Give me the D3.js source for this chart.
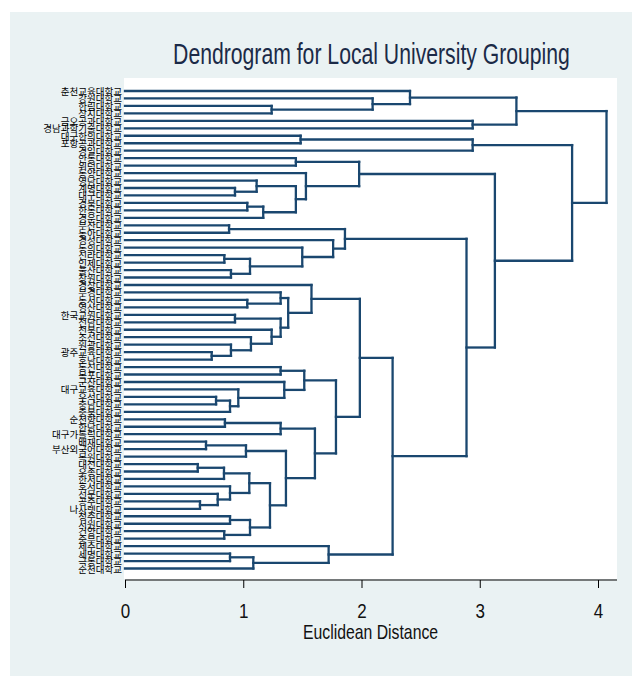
<!DOCTYPE html>
<html>
<head>
<meta charset="utf-8">
<script src="https://cdn.jsdelivr.net/npm/d3@7"></script>
<style>
  html, body { margin: 0; padding: 0; background: #ffffff; }
  svg { display: block; }
</style>
</head>
<body>
<svg id="chart" width="642" height="686"></svg>
<script>
// ---------------- DATA ----------------
const titleText = "Dendrogram for Local University Grouping";
const xAxisTitle = "Euclidean Distance";
const xTicks = [0, 1, 2, 3, 4];

// leaf labels, in display order (top to bottom)
const labels = [
  "춘천교육대학교", "강원대학교", "한림대학교", "상지대학교", "금오공과대학교",
  "경남과학기술대학교", "대구한의대학교", "포항공과대학교", "경일대학교", "안동대학교",
  "위덕대학교", "동양대학교", "영남대학교", "계명대학교", "대구대학교",
  "경북대학교", "한동대학교", "경운대학교", "부산대학교", "동아대학교",
  "경성대학교", "동의대학교", "신라대학교", "인제대학교", "울산대학교",
  "창원대학교", "경상대학교", "부경대학교", "동서대학교", "영산대학교",
  "한국교원대학교", "전남대학교", "전북대학교", "조선대학교", "원광대학교",
  "광주교육대학교", "호남대학교", "동신대학교", "목포대학교", "군산대학교",
  "대구교육대학교", "우석대학교", "충남대학교", "충북대학교", "순천향대학교",
  "한남대학교", "대구가톨릭대학교", "배재대학교", "부산외국어대학교", "목원대학교",
  "대전대학교", "우송대학교", "한서대학교", "호서대학교", "선문대학교",
  "공주대학교", "나사렛대학교", "청주대학교", "서원대학교", "건양대학교",
  "중부대학교", "제주대학교", "세명대학교", "극동대학교", "순천대학교"
];

// merges: [childA, childB, distance]; leaves are 0..64, merge k creates node 65+k
const mergeA = [2, 1, 0, 4, 67, 6, 70, 9, 13, 12, 15, 75, 74, 11, 72,
  18, 22, 24, 81, 21, 20, 80, 28, 27, 30, 35, 34, 33, 32, 89, 88, 26,
  37, 41, 98, 40, 39, 97, 44, 103, 47, 105, 50, 107, 55, 54, 53, 108,
  57, 59, 113, 112, 106, 104, 102, 96, 62, 121, 61, 120, 86, 79, 71, 69];
const mergeB = [3, 65, 66, 5, 68, 7, 8, 10, 14, 73, 16, 17, 76, 77, 78,
  19, 23, 25, 82, 83, 84, 85, 29, 87, 31, 36, 90, 91, 92, 93, 94, 95,
  38, 42, 43, 99, 100, 101, 45, 46, 48, 49, 51, 52, 56, 109, 110, 111,
  58, 60, 114, 115, 116, 117, 118, 119, 63, 64, 122, 123, 124, 125, 126, 127];
const mergeDist = [1.24, 2.094, 2.41, 2.94, 3.31, 1.485, 2.94, 1.445, 0.93, 1.113, 1.034, 1.169, 1.445, 1.53, 1.98,
  0.88, 0.84, 0.896, 1.057, 1.499, 1.76, 1.86, 1.034, 1.316, 0.93, 0.733, 0.896, 1.065, 1.24, 1.316, 1.38, 1.577,
  1.316, 0.77, 0.888, 0.958, 1.347, 1.516, 0.845, 1.316, 0.685, 1.023, 0.615, 0.837, 0.634, 0.784, 0.888, 1.051,
  0.888, 0.839, 1.057, 1.226, 1.361, 1.606, 1.784, 1.986, 0.888, 1.085, 1.722, 2.263, 2.888, 3.128, 3.781, 4.072];

// ---------------- LAYOUT ----------------
const svg = d3.select("#chart");

const bg = { x: 10, y: 12, w: 622, h: 664 };
const plot = { left: 124, right: 617, top: 78, bottom: 579 };

svg.append("rect").attr("x", bg.x).attr("y", bg.y).attr("width", bg.w).attr("height", bg.h)
  .attr("fill", "#eaf2f3");
svg.append("rect").attr("x", plot.left).attr("y", plot.top)
  .attr("width", plot.right - plot.left).attr("height", plot.bottom - plot.top)
  .attr("fill", "#ffffff");

const x = d3.scaleLinear().domain([0, 4]).range([125, 598]);
const y = d3.scaleLinear().domain([0, labels.length - 1]).range([91, 568.5]);

// build the tree
const nodes = labels.map((name, i) => ({ id: i, name, dist: 0, children: null }));
mergeA.forEach((a, k) => {
  nodes.push({ id: labels.length + k, dist: mergeDist[k], children: [nodes[a], nodes[mergeB[k]]] });
});
const root = d3.hierarchy(nodes[nodes.length - 1]);
root.eachAfter(n => {
  n.yPos = n.children ? (n.children[0].yPos + n.children[1].yPos) / 2 : y(n.data.id);
});

const lineColor = "#1a476f";
const g = svg.append("g").attr("fill", "none").attr("stroke", lineColor)
  .attr("stroke-width", 2.3).attr("stroke-linecap", "square");

// horizontal stems: each node from its own distance to its parent's distance
root.descendants().filter(n => n.parent).forEach(n => {
  g.append("line")
    .attr("x1", x(n.data.dist)).attr("x2", x(n.parent.data.dist))
    .attr("y1", n.yPos).attr("y2", n.yPos);
});
// vertical joins
root.descendants().filter(n => n.children).forEach(n => {
  g.append("line")
    .attr("x1", x(n.data.dist)).attr("x2", x(n.data.dist))
    .attr("y1", n.children[0].yPos).attr("y2", n.children[1].yPos);
});

// leaf labels
svg.append("g").selectAll("text").data(root.leaves()).join("text")
  .attr("x", 122).attr("y", d => d.yPos)
  .attr("text-anchor", "end").attr("dominant-baseline", "central")
  .attr("font-family", "'Noto Sans CJK KR', sans-serif").attr("font-size", 9.5)
  .attr("fill", "#000")
  .text(d => d.data.name);

// x axis
const axisY = 580;
svg.append("line").attr("x1", 125).attr("x2", plot.right).attr("y1", axisY).attr("y2", axisY)
  .attr("stroke", "#000").attr("stroke-width", 1);
const axis = d3.axisBottom(x).tickValues(xTicks).tickSize(8).tickFormat(d3.format("d"));
const ax = svg.append("g").attr("transform", `translate(0,${axisY})`).call(axis);
ax.select(".domain").remove();
ax.selectAll(".tick line").attr("stroke", "#000");
ax.selectAll(".tick text")
  .attr("font-family", "'Liberation Sans', Arial, sans-serif").attr("font-size", 17)
  .attr("fill", "#111").attr("y", 0).attr("dy", 0)
  .attr("transform", "translate(0,38) scale(1,1.24)");

svg.append("g").attr("transform", "translate(370.5,639) scale(1,1.33)")
  .append("text").attr("x", 0).attr("y", 0).attr("text-anchor", "middle")
  .attr("font-family", "'Liberation Sans', Arial, sans-serif").attr("font-size", 15.8)
  .attr("fill", "#111")
  .text(xAxisTitle);

svg.append("g").attr("transform", "translate(371.5,64) scale(1,1.42)")
  .append("text").attr("x", 0).attr("y", 0).attr("text-anchor", "middle")
  .attr("font-family", "'Liberation Sans', Arial, sans-serif").attr("font-size", 21.2)
  .attr("fill", "#1b2a47")
  .text(titleText);
</script>
</body>
</html>
